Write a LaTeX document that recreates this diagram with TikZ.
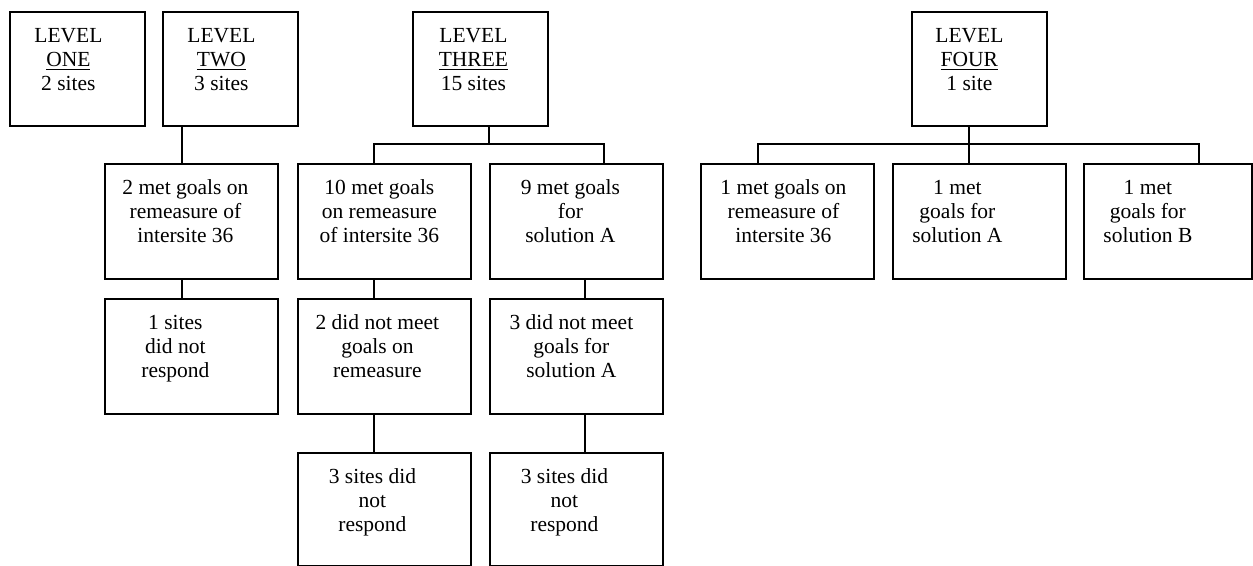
\documentclass[tikz,border=0pt]{standalone}
\usepackage{fontspec}
\setmainfont{Liberation Serif}

\newdimen\pixel
\pixel=0.5pt

\begin{document}
\begin{tikzpicture}[x=0.5pt,y=-0.5pt,line width=0.9pt,font=\fontsize{10.75}{12}\selectfont]

\def\wlev{135}
\def\hlev{114.5}
\def\wbox{173}
\def\hgt{115}

% \mybox{name}{left}{top}{width}{height}{rightskip}{text}
\newcommand*{\mybox}[7]{
	\node [draw, inner sep=0, anchor=north west] (#1) at (#2,#3)
		{\parbox[c][#5\pixel][t]{#4\pixel}{\centering\rightskip=#6\pixel plus 1fil\relax\rule{0pt}{15.25pt}#7}};
}

	\useasboundingbox (0,0) rectangle (1253,566);

	% levels
	\mybox{lvone}{9}{11}{\wlev}{\hlev}{18}{LEVEL\\\underline{ONE}\\2 sites}
	\mybox{lvtwo}{162}{11}{\wlev}{\hlev}{18}{LEVEL\\\underline{TWO}\\3 sites}
	\mybox{lvthree}{412}{11}{\wlev}{\hlev}{14}{LEVEL\\\underline{THREE}\\15 sites}
	\mybox{lvfour}{911}{11}{\wlev}{\hlev}{20}{LEVEL\\\underline{FOUR}\\1 site}

	% level two
	\mybox{twoA}{104}{163}{\wbox}{\hgt}{12}{2 met goals on\\remeasure of\\intersite 36}
	\mybox{twoB}{104}{298}{\wbox}{\hgt}{32}{1 sites\\did not\\respond}

	% level three
	\mybox{threeA}{297}{163}{\wbox}{\hgt}{10}{10 met goals\\on remeasure\\of intersite 36}
	\mybox{threeB}{489}{163}{\wbox}{\hgt}{12}{9 met goals\\for\\solution A}
	\mybox{threeC}{297}{298}{\wbox}{\hgt}{14}{2 did not meet\\goals on\\remeasure}
	\mybox{threeD}{489}{298}{\wbox}{\hgt}{10}{3 did not meet\\goals for\\solution A}
	\mybox{threeE}{297}{452}{\wbox}{113}{24}{3 sites did\\not\\respond}
	\mybox{threeF}{489}{452}{\wbox}{113}{24}{3 sites did\\not\\respond}

	% level four
	\mybox{fourA}{700}{163}{\wbox}{\hgt}{8}{1 met goals on\\remeasure of\\intersite 36}
	\mybox{fourB}{892}{163}{\wbox}{\hgt}{44}{1 met\\goals for\\solution A}
	\mybox{fourC}{1083}{163}{168}{\hgt}{40}{1 met\\goals for\\solution B}

	% connector lines
	\coordinate (jtwo) at (182,144);
	\coordinate (jthree) at (489,144);
	\coordinate (jfour) at (969,144);
	\coordinate (ja) at (374,144);
	\coordinate (jb) at (604,144);
	\coordinate (jbb) at (585,144);
	\coordinate (jfa) at (758,144);
	\coordinate (jfc) at (1199,144);

	\draw (lvtwo.south -| jtwo) -- (twoA.north -| jtwo);
	\draw (twoA.south -| jtwo) -- (twoB.north -| jtwo);

	\draw (lvthree.south -| jthree) -- (jthree);
	\draw (threeA.north -| ja) |- (jthree) -| (threeB.north -| jb);
	\draw (threeA.south -| ja) -- (threeC.north -| ja);
	\draw (threeC.south -| ja) -- (threeE.north -| ja);
	\draw (threeB.south -| jbb) -- (threeD.north -| jbb);
	\draw (threeD.south -| jbb) -- (threeF.north -| jbb);

	\draw (lvfour.south -| jfour) -- (fourB.north -| jfour);
	\draw (fourA.north -| jfa) |- (jfour) -| (fourC.north -| jfc);

\end{tikzpicture}
\end{document}
